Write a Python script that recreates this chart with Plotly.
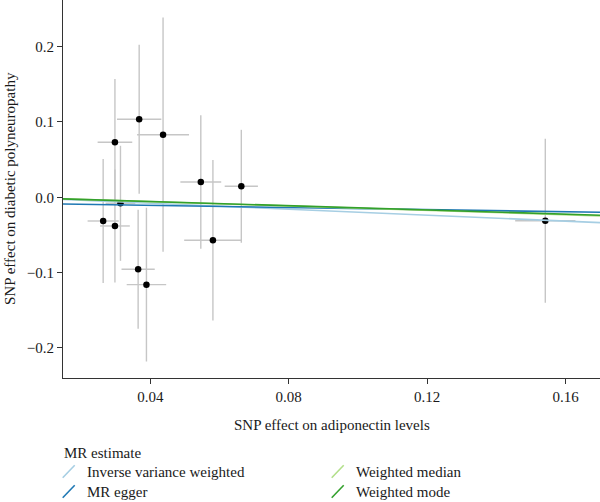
import numpy as np
import plotly.graph_objects as go

# --- data ---
snp_exposure = [0.0264, 0.0298, 0.0298, 0.0314, 0.0368, 0.0437, 0.0546, 0.0663, 0.0581, 0.0365, 0.0389, 0.1541]
snp_outcome = [-0.0315, -0.0381, 0.0730, -0.0080, 0.1036, 0.0831, 0.0203, 0.0146, -0.0571, -0.0956, -0.1160, -0.0311]
se_exposure = [0.0045, 0.0043, 0.0050, 0.0043, 0.0064, 0.0075, 0.0059, 0.0048, 0.0083, 0.0048, 0.0057, 0.0087]
se_outcome = [0.0822, 0.0750, 0.0840, 0.0764, 0.0989, 0.1556, 0.0885, 0.0750, 0.1065, 0.0790, 0.1021, 0.1089]

methods = ["Inverse variance weighted", "MR egger", "Weighted median", "Weighted mode"]
slopes = [-0.198, -0.071, -0.145, -0.140]
intercepts = [0.0, -0.0079, 0.0, 0.0]
method_colors = ["#a6cee3", "#1f78b4", "#b2df8a", "#33a02c"]

x_ticks = [0.04, 0.08, 0.12, 0.16]
y_ticks = [-0.2, -0.1, 0.0, 0.1, 0.2]
x_range = [0.0148, 0.1699]
y_range = [-0.2400, 0.2620]

FONT = "Liberation Serif"
TXT = "#1a1a1a"
W, H = 600, 502
L, R, T, B = 63, 600, 0, 378  # plot area in pixels


def fx(px):
    return (px - L) / (R - L)


def fy(py):
    return (B - py) / (B - T)


fig = go.Figure()

fig.add_trace(go.Scatter(
    x=snp_exposure, y=snp_outcome, mode="markers",
    marker=dict(color="black", size=6.5),
    error_x=dict(type="data", array=se_exposure, color="#c6c6c6", thickness=1.4, width=0),
    error_y=dict(type="data", array=se_outcome, color="#c6c6c6", thickness=1.4, width=0),
    showlegend=False, hoverinfo="x+y",
))

xr = np.array(x_range)
for name, s, b, c in zip(methods, slopes, intercepts, method_colors):
    fig.add_trace(go.Scatter(
        x=xr, y=b + s * xr, mode="lines", name=name,
        line=dict(color=c, width=1.6), showlegend=False,
    ))

# axis titles
fig.add_annotation(x=fx((L + R) / 2), y=fy(425), xref="paper", yref="paper",
                   text="SNP effect on adiponectin levels", showarrow=False,
                   xanchor="center", yanchor="middle", font=dict(family=FONT, size=15, color=TXT))
fig.add_annotation(x=fx(10), y=fy(189), xref="paper", yref="paper",
                   text="SNP effect on diabetic polyneuropathy", showarrow=False, textangle=-90,
                   xanchor="center", yanchor="middle", font=dict(family=FONT, size=15, color=TXT))

# manual legend
fig.add_annotation(x=fx(62), y=fy(453), xref="paper", yref="paper", text="MR estimate",
                   showarrow=False, xanchor="left", yanchor="middle",
                   font=dict(family=FONT, size=15, color=TXT))
col_x = [62.7, 331.7]
row_y = [471.7, 491.7]
for i, (name, c) in enumerate(zip(methods, method_colors)):
    cx = col_x[i // 2]
    ry = row_y[i % 2]
    fig.add_shape(type="line", xref="paper", yref="paper",
                  x0=fx(cx), y0=fy(ry + 6), x1=fx(cx + 12), y1=fy(ry - 6.5),
                  line=dict(color=c, width=1.6))
    fig.add_annotation(x=fx(cx + 22), y=fy(ry), xref="paper", yref="paper", text=name,
                       showarrow=False, xanchor="left", yanchor="middle",
                       font=dict(family=FONT, size=15, color=TXT))

axis_common = dict(showgrid=False, zeroline=False, showline=True, linecolor="#333333", linewidth=1,
                   ticks="outside", ticklen=5, tickcolor="#333333", tickwidth=1,
                   tickfont=dict(family=FONT, size=15, color=TXT))
fig.update_xaxes(range=x_range, tickvals=x_ticks, tickformat=".2f", **axis_common)
fig.update_yaxes(range=y_range, tickvals=y_ticks, tickformat=".1f", **axis_common)

fig.update_layout(
    width=W, height=H, margin=dict(l=L, r=W - R, t=T, b=H - B),
    plot_bgcolor="white", paper_bgcolor="white",
    font=dict(family=FONT, size=15, color=TXT),
)

fig.write_html("out.html")
